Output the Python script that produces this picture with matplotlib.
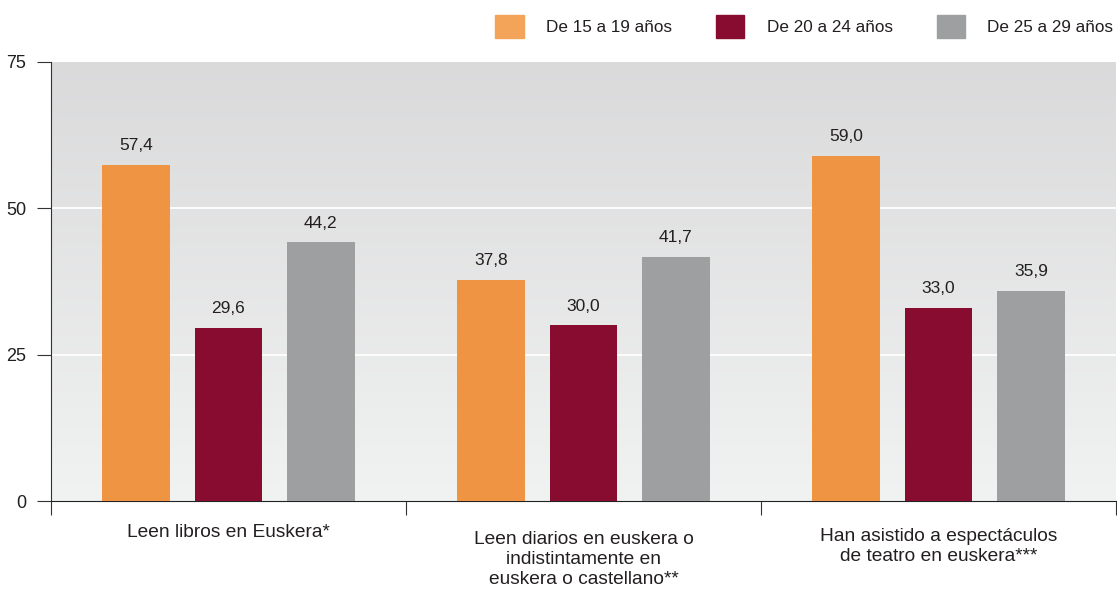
import matplotlib.pyplot as plt
import numpy as np
from matplotlib.patches import Patch

plt.rcParams["font.family"] = ["Liberation Sans", "DejaVu Sans"]

categories = [
    "Leen libros en Euskera*",
    "Leen diarios en euskera o\nindistintamente en\neuskera o castellano**",
    "Han asistido a espectáculos\nde teatro en euskera***",
]
series_names = ["De 15 a 19 años", "De 20 a 24 años", "De 25 a 29 años"]
values_15_19 = [57.4, 37.8, 59.0]
values_20_24 = [29.6, 30.0, 33.0]
values_25_29 = [44.2, 41.7, 35.9]
y_ticks = [0, 25, 50, 75]

bar_colors = ["#ef9443", "#870c30", "#9e9fa1"]
legend_colors = ["#f4a459", "#870c30", "#9e9fa1"]
text_color = "#231f20"
label_drop = [-3.9, -5.1, -4.6]  # vertical placement of category labels

fig = plt.figure(figsize=(11.17, 5.96), dpi=100)
ax = fig.add_axes([51 / 1117, 1 - 501 / 596, 1065 / 1117, 439 / 596])

# vertical gradient background
grad = np.linspace(0, 1, 256).reshape(-1, 1)
top = np.array([0.855, 0.855, 0.86])
bot = np.array([0.945, 0.949, 0.949])
img = bot + (top - bot) * grad
ax.imshow(img[:, None, :].repeat(2, axis=1), extent=[0, 3, 0, 75], origin="lower",
          aspect="auto", zorder=0)

x = np.arange(len(categories)) + 0.5
offset = 0.26
width = 0.19
for i, (vals, c) in enumerate(zip([values_15_19, values_20_24, values_25_29], bar_colors)):
    xs = x + (i - 1) * offset
    ax.bar(xs, vals, width=width, color=c, zorder=3)
    for xi, v in zip(xs, vals):
        ax.text(xi, v + 2.0, f"{v:.1f}".replace(".", ","), ha="center", va="bottom",
                fontsize=12.5, color=text_color, zorder=4)

for yv in [25, 50]:
    ax.axhline(yv, color="white", linewidth=1.3, zorder=1)

ax.set_xlim(0, 3)
ax.set_ylim(0, 75)
ax.set_yticks(y_ticks)
ax.set_xticks([0, 1, 2, 3])
ax.set_xticklabels([])
for xi, lab, dy in zip(x, categories, label_drop):
    ax.text(xi, dy, lab, ha="center", va="top", fontsize=13.8, color=text_color,
            linespacing=1.22)

for s in ["top", "right"]:
    ax.spines[s].set_visible(False)
ax.spines["left"].set_color("#333333")
ax.spines["bottom"].set_color("#222222")
ax.tick_params(axis="y", direction="out", length=10, color="#333333", labelsize=13,
               labelcolor=text_color, pad=8)
ax.tick_params(axis="x", direction="out", length=10, color="#333333")

handles = [Patch(color=c) for c in legend_colors]
fig.legend(handles, series_names, loc="upper right", bbox_to_anchor=(1.0105, 1.0),
           ncol=3, frameon=False, fontsize=12.3, handlelength=1.65, handleheight=1.7,
           columnspacing=2.6, handletextpad=1.3, labelcolor=text_color)

fig.savefig("out.png", dpi=100)
